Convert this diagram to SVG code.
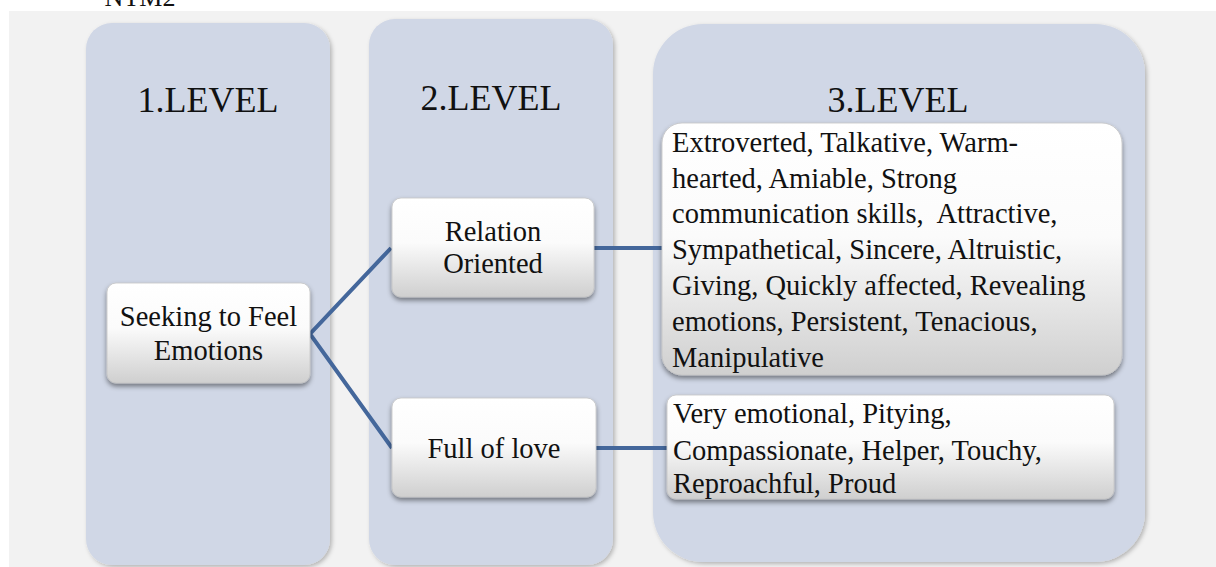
<svg xmlns="http://www.w3.org/2000/svg" width="1216" height="567" viewBox="0 0 1216 567">
  <defs>
    <linearGradient id="btn" x1="0" y1="0" x2="0" y2="1">
      <stop offset="0" stop-color="#ffffff"/>
      <stop offset="0.45" stop-color="#fbfbfb"/>
      <stop offset="1" stop-color="#cfcfcf"/>
    </linearGradient>
    <filter id="colShadow" x="-10%" y="-10%" width="120%" height="120%">
      <feDropShadow dx="2" dy="2" stdDeviation="2" flood-color="#000" flood-opacity="0.25"/>
    </filter>
    <filter id="btnShadow" x="-10%" y="-10%" width="120%" height="130%">
      <feDropShadow dx="0" dy="3" stdDeviation="2.5" flood-color="#000" flood-opacity="0.45"/>
    </filter>
  </defs>
  <style>
    .col { fill: #d0d7e6; filter: url(#colShadow); }
    .btn { fill: url(#btn); stroke: #c4c4c4; stroke-width: 0.8; filter: url(#btnShadow); }
    .head { font-family: "Liberation Serif", serif; font-size: 36px; fill: #111; text-anchor: middle; }
    .lbl { font-family: "Liberation Serif", serif; font-size: 28.5px; fill: #111; }
    .mid { text-anchor: middle; }
    .link { stroke: #44679b; stroke-width: 4; fill: none; }
  </style>

  <!-- page background and caption running in from above -->
  <rect x="0" y="0" width="1216" height="567" fill="#ffffff"/>
  <text x="140" y="6" font-family="Liberation Serif, serif" font-size="26" fill="#111" text-anchor="middle">NTM2</text>
  <rect x="9" y="11" width="1207" height="556" fill="#f2f2f2"/>

  <!-- level columns -->
  <g id="level1">
    <rect class="col" x="86" y="23" width="244" height="542" rx="26"/>
    <text class="head" x="208" y="112">1.LEVEL</text>
  </g>
  <g id="level2">
    <rect class="col" x="369" y="19" width="244" height="546" rx="26"/>
    <text class="head" x="491" y="110">2.LEVEL</text>
  </g>
  <g id="level3">
    <rect class="col" x="653" y="24" width="492" height="538" rx="50"/>
    <text class="head" x="898" y="112">3.LEVEL</text>
  </g>

  <!-- connectors -->
  <g id="connectors">
    <polyline class="link" points="391,248 310,334 392,448"/>
    <line class="link" x1="594" y1="248" x2="664" y2="248"/>
    <line class="link" x1="596" y1="448" x2="668" y2="448"/>
  </g>

  <!-- nodes -->
  <g id="seeking">
    <rect class="btn" x="107" y="283" width="203" height="100" rx="9"/>
    <text class="lbl mid" x="208.5" y="326">Seeking to Feel</text>
    <text class="lbl mid" x="208.5" y="360">Emotions</text>
  </g>
  <g id="relation">
    <rect class="btn" x="392" y="198" width="202" height="99" rx="9"/>
    <text class="lbl mid" x="493" y="241">Relation</text>
    <text class="lbl mid" x="493" y="273">Oriented</text>
  </g>
  <g id="fulloflove">
    <rect class="btn" x="392" y="398" width="204" height="99" rx="9"/>
    <text class="lbl mid" x="494" y="458">Full of love</text>
  </g>
  <g id="traits1">
    <rect class="btn" x="662" y="123" width="460" height="252" rx="20"/>
    <text class="lbl" x="672" y="152">Extroverted, Talkative, Warm-</text>
    <text class="lbl" x="672" y="188">hearted, Amiable, Strong</text>
    <text class="lbl" x="672" y="223">communication skills,&#160; Attractive,</text>
    <text class="lbl" x="672" y="259">Sympathetical, Sincere, Altruistic,</text>
    <text class="lbl" x="672" y="295">Giving, Quickly affected, Revealing</text>
    <text class="lbl" x="672" y="331">emotions, Persistent, Tenacious,</text>
    <text class="lbl" x="672" y="367">Manipulative</text>
  </g>
  <g id="traits2">
    <rect class="btn" x="667" y="395" width="447" height="104" rx="9"/>
    <text class="lbl" x="673" y="423">Very emotional, Pitying,</text>
    <text class="lbl" x="673" y="460">Compassionate, Helper, Touchy,</text>
    <text class="lbl" x="673" y="493">Reproachful, Proud</text>
  </g>
</svg>
